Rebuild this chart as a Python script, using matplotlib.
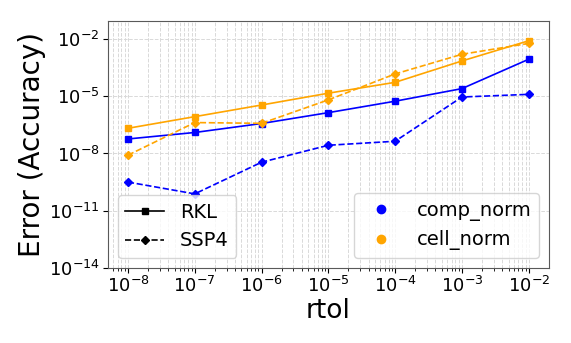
import matplotlib
matplotlib.use("Agg")
import matplotlib.pyplot as plt
from matplotlib.lines import Line2D
import numpy as np

rtol = [1e-8, 1e-7, 1e-6, 1e-5, 1e-4, 1e-3, 1e-2]

# log10 of errors
rkl_comp_log = [-7.24, -6.90, -6.43, -5.86, -5.26, -4.60, -3.06]
rkl_cell_log = [-6.68, -6.07, -5.46, -4.84, -4.27, -3.15, -2.09]
ssp4_comp_log = [-9.50, -10.12, -8.46, -7.57, -7.36, -5.04, -4.90]
ssp4_cell_log = [-8.09, -6.38, -6.42, -5.19, -3.83, -2.80, -2.23]

rkl_comp = [10 ** v for v in rkl_comp_log]
rkl_cell = [10 ** v for v in rkl_cell_log]
ssp4_comp = [10 ** v for v in ssp4_comp_log]
ssp4_cell = [10 ** v for v in ssp4_cell_log]

blue = "#0000ff"
orange = "#ffa500"

fig = plt.figure(figsize=(5.71, 3.43), dpi=100)
ax = fig.add_axes([0.189, 0.219, 0.772, 0.720])

ax.plot(rtol, rkl_comp, "-s", color=blue, lw=1.2, ms=5)
ax.plot(rtol, rkl_cell, "-s", color=orange, lw=1.2, ms=5)
ax.plot(rtol, ssp4_comp, "--D", color=blue, lw=1.2, ms=4.5)
ax.plot(rtol, ssp4_cell, "--D", color=orange, lw=1.2, ms=4.5)

ax.set_xscale("log")
ax.set_yscale("log")
ax.set_ylim(1e-14, 10 ** -1.05)
ax.set_xticks(rtol)
ax.set_yticks([1e-14, 1e-11, 1e-8, 1e-5, 1e-2])
ax.yaxis.set_minor_locator(matplotlib.ticker.NullLocator())

ax.grid(True, which="both", ls="--", color="0.85", lw=0.7)
ax.tick_params(labelsize=13, pad=2.5)
ax.set_xlabel("rtol", fontsize=19, labelpad=1)
ax.set_ylabel("Error (Accuracy)", fontsize=20, labelpad=2)
for s in ax.spines.values():
    s.set_color("0.35")

h1 = [Line2D([], [], color="black", ls="-", marker="s", ms=5, lw=1.2),
      Line2D([], [], color="black", ls="--", marker="D", ms=4.5, lw=1.2)]
leg1 = ax.legend(h1, ["RKL", "SSP4"], loc="lower left", fontsize=14)
ax.add_artist(leg1)
h2 = [Line2D([], [], color=blue, ls="", marker="o", ms=6),
      Line2D([], [], color=orange, ls="", marker="o", ms=6)]
ax.legend(h2, ["comp_norm", "cell_norm"], loc="lower right", fontsize=14)

fig.savefig("out.png", dpi=100)
